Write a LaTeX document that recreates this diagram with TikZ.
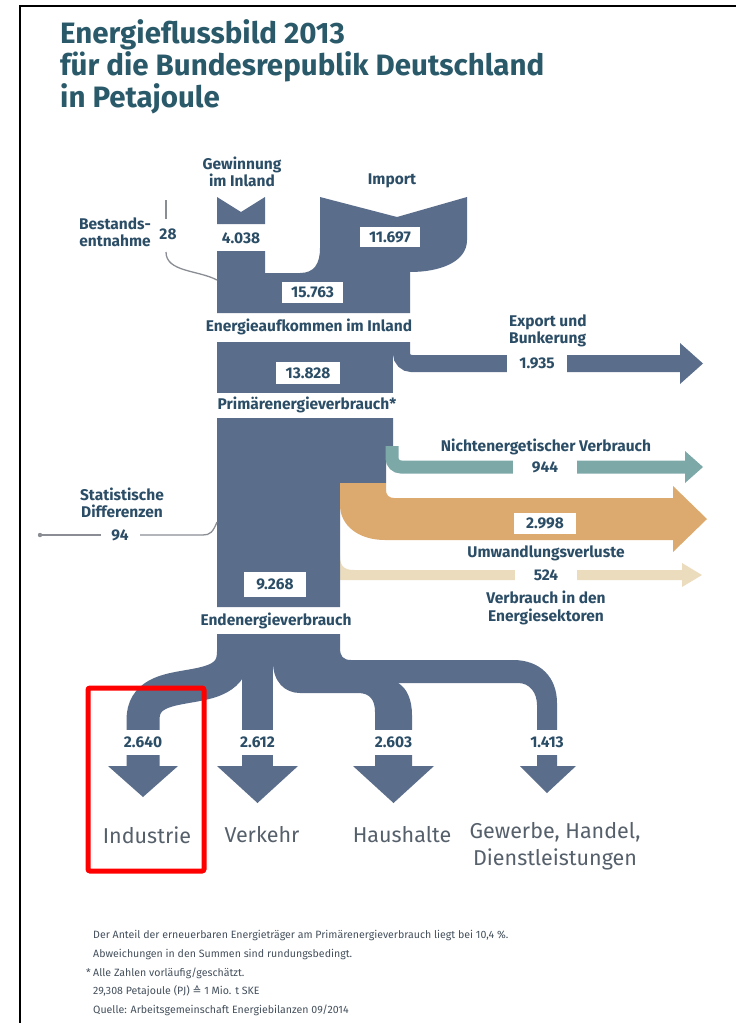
\documentclass[tikz,border=0pt]{standalone}
\usepackage{fontspec}
\setmainfont{Fira Sans}
\newfontfamily\symfont{DejaVu Sans}
\definecolor{flowblue}{HTML}{5A6E8C}
\definecolor{flowteal}{HTML}{7DA8A8}
\definecolor{floworange}{HTML}{DCAA6E}
\definecolor{flowbeige}{HTML}{ECDCBE}
\definecolor{labeltext}{HTML}{2B4D66}
\definecolor{titletext}{HTML}{2A5A6A}
\definecolor{cattext}{HTML}{56606B}
\definecolor{notetext}{HTML}{44505C}
\definecolor{thinline}{HTML}{8A8E94}
\tikzset{
  flow/.style={fill=flowblue},
  lbl/.style={font=\bfseries\fontsize{15.5}{17.5}\selectfont, text=labeltext, align=center, inner sep=0pt},
  numbox/.style={lbl, fill=white, inner sep=0pt},
  title/.style={font=\bfseries\fontsize{29.5}{32}\selectfont, text=titletext, anchor=base west, inner sep=0pt},
  cat/.style={font=\fontsize{21.5}{27}\selectfont, text=cattext, align=center, inner sep=0pt},
  note/.style={font=\fontsize{10.6}{12}\selectfont, text=notetext, anchor=base west, inner sep=0pt},
  leader/.style={draw=thinline, line width=1.3pt},
}
\begin{document}
\begin{tikzpicture}[x=1pt,y=-1pt]
\useasboundingbox (0,0) rectangle (736,1023);
\fill[white] (0,0) rectangle (736,1023);
% frame
\draw[line width=2pt] (736,6) -- (20,6) -- (20,1023);

% title
\node[title] (t1) at (60,43) {Energieflussbild 2013};
\node[title] (t2) at (60,75) {für die Bundesrepublik Deutschland};
\node[title] (t3) at (60,107) {in Petajoule};

% ---------- supply ----------
\fill[flow] (217,197) -- (241,212) -- (265,197) -- (265,224) -- (217,224) -- cycle;
\fill[flow] (320,197) -- (397,217) -- (467,197) -- (467,240)
  .. controls (467,262) and (440,272) .. (410,272) -- (410,313) -- (217,313)
  -- (217,251) -- (265,251) -- (265,273) -- (300,273)
  .. controls (314,273) and (320,264) .. (320,248) -- cycle;
\node[lbl] (gew) at (242,172) {Gewinnung\\im Inland};
\node[lbl] (imp) at (392,181) {Import};
\node[lbl] (v4038) at (241,238) {4.038};
\node[numbox, minimum width=60, minimum height=20] (v11697) at (390,237) {11.697};
\node[numbox, minimum width=61, minimum height=21] (v15763) at (312.5,292.5) {15.763};

% Bestandsentnahme
\node[lbl, align=right, anchor=east] (best) at (151,232) {Bestands-\\entnahme};
\node[lbl] (v28) at (168,234) {28};
\coordinate (bt) at (166,200);
\coordinate (bm) at (166,219);
\coordinate (bb) at (166,252);
\coordinate (be) at (217,280);
\draw[leader] (bt) -- (bm);
\draw[leader] (bb) .. controls (166,272) and (198,270) .. (be);

\node[lbl] (eai) at (309,327) {Energieaufkommen im Inland};

% ---------- export ----------
\draw[flowblue, line width=17pt, rounded corners=10] (401.5,342) -- (401.5,363.5) -- (681,363.5);
\fill[flow] (680,343) -- (703,363.5) -- (680,384) -- cycle;
\node[numbox, minimum width=60, minimum height=19] (v1935) at (537,363.5) {1.935};
\node[lbl, align=left, anchor=west] (exp) at (509,331) {Export und\\Bunkerung};

% primary energy block
\fill[flow] (217,342) rectangle (393,393);
\node[numbox, minimum width=64, minimum height=22] (v13828) at (308,373) {13.828};
\node[lbl] (pev) at (307,405) {Primärenergieverbrauch*};

% ---------- main column ----------
\fill[flowbeige] (340,556) .. controls (340,566) and (344,570) .. (354,570) -- (682,570)
  -- (682,563) -- (702,575) -- (682,587) -- (682,580) -- (340,580) -- cycle;
\fill[flow] (217,418) -- (393,418) -- (393,446) -- (386,446) -- (386,483) -- (340,483)
  -- (340,607) -- (217,607) -- cycle;
\draw[flowteal, line width=13pt, rounded corners=9] (392,446) -- (392,467) -- (686,467);
\fill[flowteal] (685,451) -- (703,467) -- (685,483) -- cycle;
\fill[floworange] (340,483) -- (386,483) -- (386,490) .. controls (386,495) and (389,498) .. (394,498)
  -- (673,498) -- (673,486) -- (707,519) -- (673,552) -- (673,540) -- (385,540)
  .. controls (358,540) and (340,525) .. (340,505) -- cycle;

\node[lbl] (net) at (546,447) {Nichtenergetischer Verbrauch};
\node[numbox, minimum width=64, minimum height=15] (v944) at (545,467) {944};
\node[numbox, minimum width=62, minimum height=21] (v2998) at (545,523) {2.998};
\node[lbl] (uwv) at (546,553) {Umwandlungsverluste};
\node[numbox, minimum width=62, minimum height=12] (v524) at (546,575) {524};
\node[lbl] (ves) at (546,608) {Verbrauch in den\\Energiesektoren};

% statistical differences
\node[lbl] (std) at (122,503) {Statistische\\Differenzen};
\node[lbl] (v94) at (120,535) {94};
\coordinate (sd0) at (217,522);
\coordinate (sd1) at (140,535);
\coordinate (sd2) at (101,535);
\coordinate (sd3) at (40,535);
\draw[leader] (sd0) .. controls (213,532) and (210,535) .. (203,535) -- (sd1);
\draw[leader] (sd2) -- (sd3);
\fill[thinline] (sd3) circle (2.2);

\node[numbox, minimum width=62, minimum height=25] (v9268) at (275,584.5) {9.268};
\node[lbl] (eev) at (276,621) {Endenergieverbrauch};

% ---------- final consumption ----------
\fill[flow] (217,634) rectangle (340,660);
\draw[flowblue, line width=33pt] (233.5,634) -- (233.5,652)
  .. controls (233.5,705) and (143,668) .. (143,720) -- (143,767);
\fill[flow] (242,634) rectangle (273,767);
\fill[flow] (273,634) -- (340,634) -- (340,648) .. controls (340,656) and (343,660) .. (351,660)
  -- (513,660) .. controls (540,660) and (557,677) .. (557,703) -- (557,767) -- (537,767)
  -- (537,705) .. controls (537,693) and (530,683) .. (518,683) -- (398,683)
  .. controls (407,688) and (412,700) .. (412,715) -- (412,767) -- (375,767) -- (375,712)
  .. controls (375,700) and (370,693) .. (358,693) -- (300,693)
  .. controls (285,693) and (273,682) .. (273,662) -- cycle;
% arrow heads
\fill[flow] (108,766) -- (178,766) -- (143,797) -- cycle;
\fill[flow] (217,766) -- (298,766) -- (257.5,803) -- cycle;
\fill[flow] (353,766) -- (434,766) -- (393.5,803) -- cycle;
\fill[flow] (520,766) -- (576,766) -- (547,793) -- cycle;
% values
\node[numbox, minimum width=62, minimum height=25] (v2640) at (143,742) {2.640};
\node[numbox, minimum width=62, minimum height=25] (v2612) at (257.5,742) {2.612};
\node[numbox, minimum width=62, minimum height=25] (v2603) at (393.5,742) {2.603};
\node[numbox, minimum width=62, minimum height=25] (v1413) at (547,742) {1.413};
% sectors
\node[cat] (ind) at (147,835) {Industrie};
\node[cat] (ver) at (262,835) {Verkehr};
\node[cat] (hh) at (402,835) {Haushalte};
\node[cat, anchor=north] (ghd) at (555,822) {Gewerbe, Handel,\\Dienstleistungen};

% highlight
\draw[red, line width=5pt, rounded corners=2] (88,688) rectangle (204,871);

% notes
\node[note] (n1) at (93,938) {Der Anteil der erneuerbaren Energieträger am Primärenergieverbrauch liegt bei 10,4 \%.};
\node[note] (n2) at (93,957) {Abweichungen in den Summen sind rundungsbedingt.};
\node[note, anchor=base east] (n3s) at (91,976) {*};
\node[note] (n3) at (93,976) {Alle Zahlen vorläufig/geschätzt.};
\node[note] (n4) at (93,994) {29,308 Petajoule (PJ) {\symfont ≙} 1 Mio. t SKE};
\node[note] (n5) at (93,1013) {Quelle: Arbeitsgemeinschaft Energiebilanzen 09/2014};
\end{tikzpicture}
\end{document}
